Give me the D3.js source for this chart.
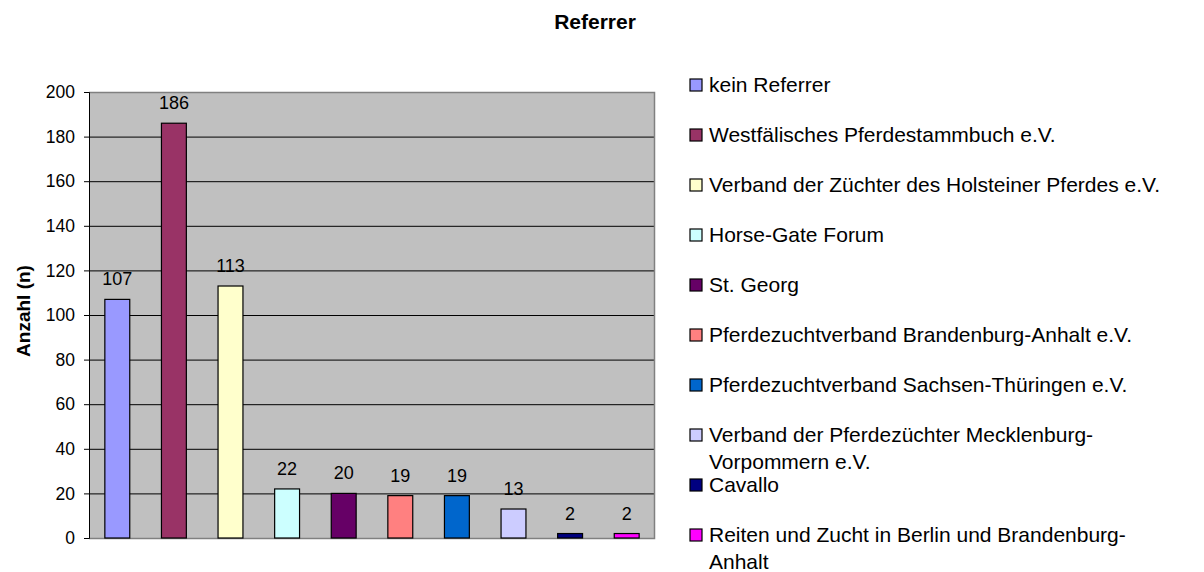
<!DOCTYPE html>
<html>
<head>
<meta charset="utf-8">
<script src="https://cdn.jsdelivr.net/npm/d3@7"></script>
<style>
  body { margin: 0; background: #fff; }
  text { font-family: "Liberation Sans", Arial, sans-serif; fill: #000; }
</style>
</head>
<body>
<div id="chart"></div>
<script>
// data
var categories = [
  'kein Referrer',
  'Westfälisches Pferdestammbuch e.V.',
  'Verband der Züchter des Holsteiner Pferdes e.V.',
  'Horse-Gate Forum',
  'St. Georg',
  'Pferdezuchtverband Brandenburg-Anhalt e.V.',
  'Pferdezuchtverband Sachsen-Thüringen e.V.',
  'Verband der Pferdezüchter Mecklenburg-Vorpommern e.V.',
  'Cavallo',
  'Reiten und Zucht in Berlin und Brandenburg-Anhalt'
]
var counts = [107, 186, 113, 22, 20, 19, 19, 13, 2, 2]
var colors = ['#9999FF', '#993366', '#FFFFCC', '#CCFFFF', '#660066',
              '#FF8080', '#0066CC', '#CCCCFF', '#000080', '#FF00FF']
var yTicks = [0, 20, 40, 60, 80, 100, 120, 140, 160, 180, 200]

var W = 1204, H = 572
var margin = {top: 92, right: 549, bottom: 34, left: 89},
  width = W - margin.left - margin.right,
  height = H - margin.top - margin.bottom

var root = d3.select('#chart')
  .append('svg')
  .attr('width', W)
  .attr('height', H)

var svg = root.append('g')
  .attr('transform', 'translate(' + margin.left + ',' + margin.top + ')')

var y_scale = d3.scaleLinear().domain([0, 200]).range([height, 0])
var x_scale = d3.scaleBand().domain(categories).range([0, width])
var barW = x_scale.bandwidth() * 0.44

// plot background
svg.append('rect')
  .attr('width', width)
  .attr('height', height)
  .attr('fill', '#C0C0C0')

// gridlines
svg.selectAll('.grid')
  .data(yTicks.filter(function(d) { return d > 0 && d < 200 }))
  .enter()
  .append('line')
  .attr('x1', 0)
  .attr('x2', width)
  .attr('y1', function(d) { return y_scale(d) + 0.5 })
  .attr('y2', function(d) { return y_scale(d) + 0.5 })
  .attr('stroke', '#000')
  .attr('stroke-width', 1)

// grey border top / right / bottom
svg.append('path')
  .attr('d', 'M0,0.5H' + (width - 0.5) + 'V' + (height + 0.5) + 'H0')
  .attr('fill', 'none')
  .attr('stroke', '#808080')
  .attr('stroke-width', 1.5)

// bars
svg.selectAll('.bar')
  .data(counts)
  .enter()
  .append('rect')
  .attr('class', 'bar')
  .attr('x', function(d, i) { return x_scale(categories[i]) + (x_scale.bandwidth() - barW) / 2 })
  .attr('y', function(d) { return y_scale(d) })
  .attr('width', barW)
  .attr('height', function(d) { return height - y_scale(d) })
  .attr('fill', function(d, i) { return colors[i] })
  .attr('stroke', '#000')
  .attr('stroke-width', 1.2)

// value labels
svg.selectAll('.val')
  .data(counts)
  .enter()
  .append('text')
  .attr('x', function(d, i) { return x_scale(categories[i]) + x_scale.bandwidth() / 2 })
  .attr('y', function(d) { return y_scale(d) - 14 })
  .attr('text-anchor', 'middle')
  .style('font-size', '18px')
  .text(function(d) { return d })

// y axis
var y_axis = d3.axisLeft(y_scale).tickValues(yTicks).tickSize(5).tickPadding(9)
var yg = svg.append('g')
  .attr('class', 'axis y-axis')
  .call(y_axis)
yg.select('.domain').attr('stroke', '#000')
yg.selectAll('text')
  .style('font-size', '17.5px')
  .attr('font-family', null)

// axis title
root.append('text')
  .attr('transform', 'translate(30,' + (margin.top + height / 2 - 4) + ') rotate(-90)')
  .attr('text-anchor', 'middle')
  .style('font-size', '19px')
  .style('font-weight', 'bold')
  .text('Anzahl (n)')

// chart title
root.append('text')
  .attr('x', 595)
  .attr('y', 29)
  .attr('text-anchor', 'middle')
  .style('font-size', '21px')
  .style('font-weight', 'bold')
  .text('Referrer')

// legend
var legend = root.append('g').attr('transform', 'translate(690,85)')
var maxW = 462

categories.forEach(function(name, i) {
  var row = legend.append('g').attr('transform', 'translate(0,' + i * 50 + ')')
  row.append('rect')
    .attr('x', 0)
    .attr('y', -6)
    .attr('width', 12)
    .attr('height', 12)
    .attr('fill', colors[i])
    .attr('stroke', '#000')
    .attr('stroke-width', 1.2)

  var t = row.append('text')
    .attr('x', 19)
    .attr('y', 7)
    .style('font-size', '21px')

  // wrap at spaces and after hyphens
  var tokens = name.replace(/-/g, '-\u0001').split(/ |\u0001/)
  var seps = []
  name.replace(/ |-/g, function(m) { seps.push(m === ' ' ? ' ' : '') })
  var line = '', lines = []
  tokens.forEach(function(tok, k) {
    var test = line + tok
    t.text(test)
    if (line !== '' && t.node().getComputedTextLength() > maxW) {
      lines.push(line.trim())
      line = tok + (seps[k] || '')
    } else {
      line = test + (seps[k] || '')
    }
  })
  lines.push(line.trim())
  t.text(null)
  lines.forEach(function(l, k) {
    t.append('tspan')
      .attr('x', 19)
      .attr('dy', k === 0 ? 0 : 27)
      .text(l)
  })
})
</script>
</body>
</html>
